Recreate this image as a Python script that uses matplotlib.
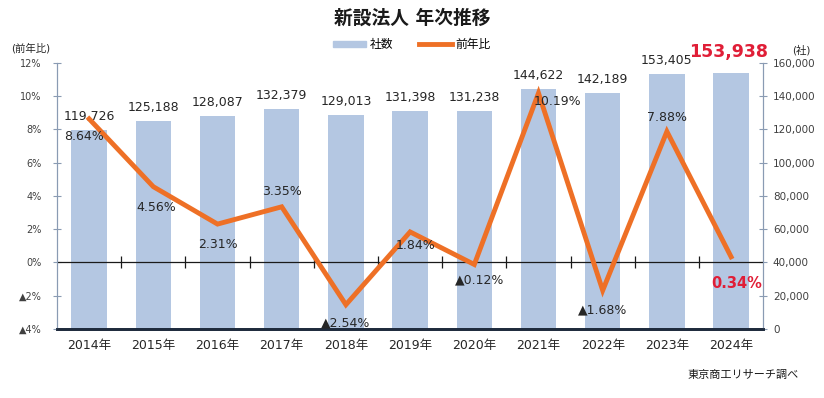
import matplotlib.pyplot as plt
import numpy as np

plt.rcParams['font.family'] = ['DejaVu Sans', 'Noto Sans CJK JP']

years = ['2014年', '2015年', '2016年', '2017年', '2018年', '2019年',
         '2020年', '2021年', '2022年', '2023年', '2024年']
counts = [119726, 125188, 128087, 132379, 129013, 131398,
          131238, 144622, 142189, 153405, 153938]
rates = [8.64, 4.56, 2.31, 3.35, -2.54, 1.84, -0.12, 10.19, -1.68, 7.88, 0.34]

# label offsets (points) for the rate labels
rate_offsets = [(-4, -13), (2, -15), (0, -15), (0, 11), (0, -13), (4, -10),
                (4, -11), (14, -6), (0, -14), (0, 10), (4, -13)]

bar_color = '#b4c7e2'
line_color = '#ee7026'
red = '#e01e37'
axis_color = '#8a9bb3'


def rate_text(v):
    return f'{v:.2f}%' if v >= 0 else f'▲{abs(v):.2f}%'


fig = plt.figure(figsize=(8.24, 3.98), dpi=100)
ax = fig.add_axes([0.0692, 0.1734, 0.857, 0.6683])
ax2 = ax.twinx()
x = np.arange(len(years))

# bars (counts) on the right axis
ax.bar(x, counts, width=0.55, color=bar_color, zorder=1)
ax.set_ylim(0, 160000)
ax.set_xlim(-0.5, len(years) - 0.5)
ax.yaxis.tick_right()
ax.set_yticks(np.arange(0, 160001, 20000))
ax.set_yticklabels([f'{v:,}' for v in range(0, 160001, 20000)],
                   fontsize=7.5, color='#404040')
ax.tick_params(axis='y', direction='inout', length=6, color=axis_color, pad=4)
ax.set_xticks(x)
ax.set_xticklabels(years, fontsize=9, color='#262626')
ax.tick_params(axis='x', length=0, pad=7)

for i, c in enumerate(counts):
    if i == len(counts) - 1:
        ax.annotate(f'{c:,}', (i, c), xytext=(-2, 9), textcoords='offset points',
                    ha='center', va='bottom', fontsize=12.5, fontweight='bold', color=red)
    else:
        ax.annotate(f'{c:,}', (i, c), xytext=(0, 5), textcoords='offset points',
                    ha='center', va='bottom', fontsize=9, color='#262626')

# line (year-on-year rate) on the left axis
ax2.plot(x, rates, color=line_color, lw=3.5, zorder=3, solid_joinstyle='miter')
ax2.set_ylim(-4, 12)
ax2.yaxis.tick_left()
ax2.set_yticks(range(-4, 13, 2))
ax2.set_yticklabels([f'{v}%' if v >= 0 else f'▲{abs(v)}%' for v in range(-4, 13, 2)],
                    fontsize=7, color='#404040')
ax2.tick_params(axis='y', direction='inout', length=6, color=axis_color, pad=8)

# zero line with category tick marks
ax2.axhline(0, color='#1a1a1a', lw=0.9, zorder=2)
ax2.plot(x[:-1] + 0.5, np.zeros(len(x) - 1), ls='none', marker='|',
         ms=8, mew=0.9, color='#1a1a1a', zorder=2)

for i, r in enumerate(rates):
    dx, dy = rate_offsets[i]
    if i == len(rates) - 1:
        ax2.annotate(rate_text(r), (i, r), xytext=(dx, dy - 6), textcoords='offset points',
                     ha='center', va='center', fontsize=10.5, fontweight='bold', color=red)
    else:
        ax2.annotate(rate_text(r), (i, r), xytext=(dx, dy), textcoords='offset points',
                     ha='center', va='center', fontsize=9, color='#262626')

for a in (ax, ax2):
    a.spines['top'].set_visible(False)
    a.spines['left'].set_color(axis_color)
    a.spines['right'].set_color(axis_color)
    a.spines['bottom'].set_color('#1f2b3d')
    a.spines['bottom'].set_linewidth(2)

# title, legend, axis captions
fig.text(0.5, 0.955, '新設法人 年次推移', ha='center', va='center',
         fontsize=13.5, fontweight='bold', color='#1a1a1a')
handles = [plt.Rectangle((0, 0), 1, 1, color=bar_color),
           plt.Line2D([], [], color=line_color, lw=3.5)]
fig.legend(handles, ['社数', '前年比'], loc='center', bbox_to_anchor=(0.5, 0.888),
           ncol=2, frameon=False, fontsize=8.5, handlelength=2.8, handleheight=0.5,
           columnspacing=2.2, handletextpad=0.3)
fig.text(0.037, 0.88, '(前年比)', ha='center', va='center', fontsize=7.5, color='#262626')
fig.text(0.972, 0.875, '(社)', ha='center', va='center', fontsize=7.5, color='#262626')
fig.text(0.97, 0.057, '東京商工リサーチ調べ', ha='right', va='center',
         fontsize=8, color='#1a1a1a')

fig.savefig('out.png', dpi=100)
